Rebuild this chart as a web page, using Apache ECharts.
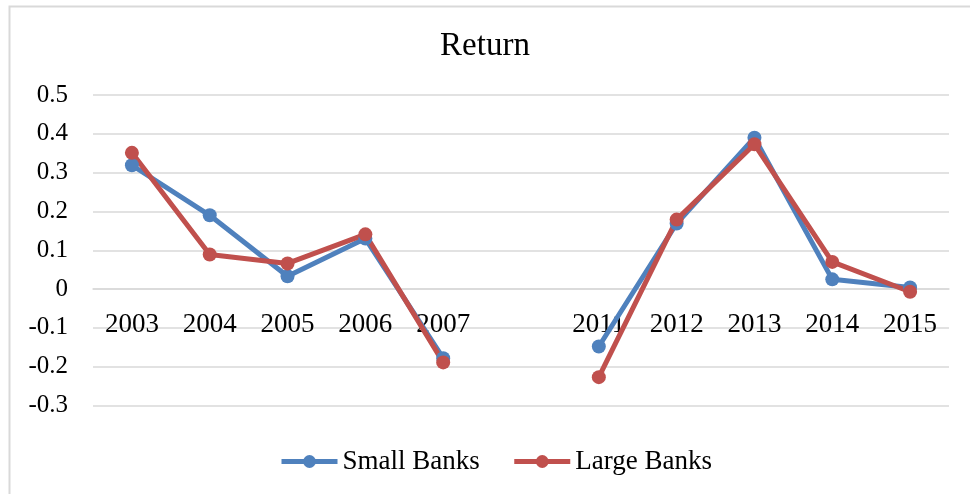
<!DOCTYPE html>
<html>
<head>
<meta charset="utf-8">
<script src="https://cdn.jsdelivr.net/npm/echarts@6/dist/echarts.min.js"></script>
<style>html,body{margin:0;padding:0;background:#fff;}#c{width:970px;height:494px;}</style>
</head>
<body>
<div id="c"></div>
<script>
var categories = ['2003','2004','2005','2006','2007','','2011','2012','2013','2014','2015'];
var smallBanks = [0.319, 0.190, 0.033, 0.130, -0.178, null, -0.148, 0.169, 0.390, 0.025, 0.004];
var largeBanks = [0.351, 0.089, 0.066, 0.141, -0.189, null, -0.227, 0.179, 0.373, 0.070, -0.007];
var seriesNames = ['Small Banks', 'Large Banks'];
var titleText = 'Return';

var FONT = 'Liberation Serif';
var chart = echarts.init(document.getElementById('c'), null, {renderer: 'canvas'});
chart.setOption({
  backgroundColor: '#fff',
  animation: false,
  graphic: [{
    type: 'rect', left: 7, top: 4, silent: true,
    shape: {x: 0, y: 0, width: 1000, height: 1000},
    style: {fill: 'none', stroke: '#d9d9d9', lineWidth: 2}
  }],
  title: {
    text: titleText, left: 'center', top: 25,
    textStyle: {fontFamily: FONT, fontSize: 33, fontWeight: 'normal', color: '#000'}
  },
  legend: {
    bottom: 14, left: 274, itemWidth: 56, itemHeight: 16, itemGap: 32,
    data: seriesNames,
    lineStyle: {width: 5},
    textStyle: {fontFamily: FONT, fontSize: 27, color: '#000'}
  },
  grid: {left: 93, right: 21, top: 95, bottom: 88.5},
  xAxis: {
    type: 'category', data: categories, boundaryGap: true,
    offset: -116.5,
    axisTick: {show: false},
    axisLine: {onZero: false, lineStyle: {color: '#d9d9d9', width: 1.5}},
    axisLabel: {interval: 0, margin: 22, fontFamily: FONT, fontSize: 27, color: '#000'}
  },
  yAxis: {
    type: 'value', min: -0.3, max: 0.5, interval: 0.1,
    axisLine: {show: false}, axisTick: {show: false},
    splitLine: {lineStyle: {color: '#d9d9d9', width: 1.5}},
    axisLabel: {margin: 25, fontFamily: FONT, fontSize: 25, color: '#000',
      formatter: function (v) { return String(+v.toFixed(1)); }}
  },
  series: [
    {name: seriesNames[0], type: 'line', data: smallBanks, connectNulls: false,
     symbol: 'circle', symbolSize: 14, color: '#4F81BD',
     lineStyle: {width: 5, color: '#4F81BD'}, itemStyle: {color: '#4F81BD'}},
    {name: seriesNames[1], type: 'line', data: largeBanks, connectNulls: false,
     symbol: 'circle', symbolSize: 14, color: '#C0504D',
     lineStyle: {width: 5, color: '#C0504D'}, itemStyle: {color: '#C0504D'}}
  ]
});
</script>
</body>
</html>
